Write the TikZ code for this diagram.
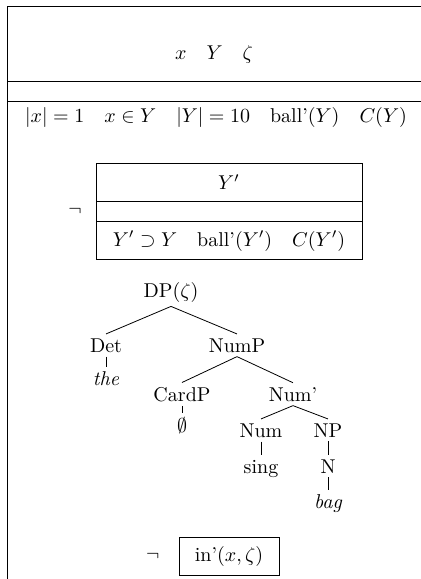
\documentclass[tikz,border=0pt]{standalone}
\usetikzlibrary{positioning}

\begin{document}
\begin{tikzpicture}[x=0.5pt, y=-0.5pt,
    cat/.style={inner sep=2pt, anchor=base},
    leaf/.style={inner sep=2pt, anchor=base, font=\itshape}]

  \useasboundingbox (0,0) rectangle (421,579);

  % outer box
  \draw (421,6) -- (7,6) -- (7,579);
  \draw (7,81) -- (421,81);
  \draw (7,101) -- (421,101);
  \node (refs) at (214,54) {$x\quad Y\quad \zeta$};
  \node (conds) at (216,117)
        {$|x|=1\quad x\in Y\quad |Y|=10\quad \textrm{ball'}(Y)\quad C(Y)$};

  % negated inner box
  \draw (96,163) rectangle (362,259);
  \draw (96,201) -- (362,201);
  \draw (96,221) -- (362,221);
  \node (yprime) at (229,182) {$Y'$};
  \node (yconds) at (229,241)
        {$Y'\supset Y\quad \textrm{ball'}(Y')\quad C(Y')$};
  \node (neg1) at (75,211) {$\neg$};

  % tree
  \node[cat] (dp)    at (171,297) {DP($\zeta$)};
  \node[cat] (det)   at (106,352) {Det};
  \node[leaf] (the)  at (106,385) {the};
  \node[cat] (nump)  at (237,352) {NumP};
  \node[cat] (cardp) at (182,401) {CardP};
  \node[cat] (empty) at (182,432) {$\emptyset$};
  \node[cat] (numbar) at (293,401) {Num'};
  \node[cat] (num)   at (261,437) {Num};
  \node[cat] (sing)  at (261,473) {sing};
  \node[cat] (np)    at (328,437) {NP};
  \node[cat] (n)     at (328,473) {N};
  \node[leaf] (bag)  at (328,508) {bag};

  \draw (dp.south) -- (det.north);
  \draw (dp.south) -- (nump.north);
  \draw (det.south) -- (the.north);
  \draw (nump.south) -- (cardp.north);
  \draw (nump.south) -- (numbar.north);
  \draw (cardp.south) -- (empty.north);
  \draw (numbar.south) -- (num.north);
  \draw (numbar.south) -- (np.north);
  \draw (num.south) -- (sing.north);
  \draw (np.south) -- (n.north);
  \draw (n.south) -- (bag.north);

  % negated predicate
  \node[draw, minimum width=50pt, minimum height=19pt] (inbox) at (229,556)
        {\textrm{in'}($x,\zeta$)};
  \node[left=6pt of inbox] (neg2) {$\neg$};

\end{tikzpicture}
\end{document}
